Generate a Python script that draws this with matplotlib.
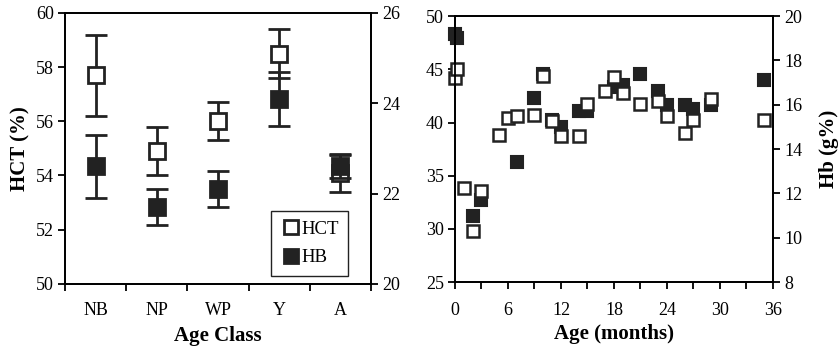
import numpy as np
import matplotlib.pyplot as plt
from matplotlib.ticker import MultipleLocator

plt.rcParams["font.family"] = ["Liberation Serif", "DejaVu Serif"]
plt.rcParams["font.size"] = 13

# Left panel: age classes
classes = ["NB", "NP", "WP", "Y", "A"]
hct_mean = [57.7, 54.9, 56.0, 58.5, 54.1]
hct_err = [1.5, 0.9, 0.7, 0.9, 0.7]
hb_mean = [22.6, 21.7, 22.1, 24.1, 22.6]
hb_err = [0.7, 0.4, 0.4, 0.6, 0.25]

# Right panel: age in months
hct_age = [0, 0.2, 1, 2, 3, 5, 6, 7, 9, 10, 11, 12, 14, 15, 17, 18, 19, 21, 23, 24, 26, 27, 29, 35]
hct_val = [44.2, 45.0, 33.8, 29.8, 33.6, 38.8, 40.4, 40.6, 40.7, 44.4, 40.1, 38.7, 38.7, 41.7,
           43.0, 44.3, 42.8, 41.7, 42.0, 40.6, 39.0, 40.2, 42.2, 40.2]
hb_age = [0, 0.2, 2, 3, 7, 9, 10, 11, 12, 14, 15, 18, 19, 21, 23, 24, 26, 27, 29, 35]
hb_val = [19.2, 19.0, 11.0, 11.7, 13.4, 16.3, 17.4, 15.3, 15.0, 15.7, 15.7, 16.8, 16.9, 17.4,
          16.6, 16.0, 16.0, 15.8, 16.0, 17.1]

fig = plt.figure(figsize=(8.39, 3.5), dpi=100)
ax1 = fig.add_axes([0.0775, 0.189, 0.3647, 0.774])
ax3 = fig.add_axes([0.5423, 0.194, 0.379, 0.760])


def style(ax):
    for s in ax.spines.values():
        s.set_linewidth(1.3)
    ax.tick_params(direction="out", length=5, width=1.3, labelsize=13, pad=3)


# ---- left panel
xpos = np.arange(len(classes)) + 0.5
ax2 = ax1.twinx()
ax1.errorbar(xpos, hct_mean, yerr=hct_err, fmt="s", ms=11, mfc="white", mec="#222222",
             mew=2, ecolor="#222222", elinewidth=2, capsize=8, capthick=2, label="HCT")
ax2.errorbar(xpos, hb_mean, yerr=hb_err, fmt="s", ms=11, mfc="#222222", mec="#222222",
             mew=2, ecolor="#222222", elinewidth=2, capsize=8, capthick=2, label="HB")
ax1.set_xlim(0, 5)
ax1.set_ylim(50, 60)
ax2.set_ylim(20, 26)
ax1.yaxis.set_major_locator(MultipleLocator(2))
ax2.yaxis.set_major_locator(MultipleLocator(2))
ax1.set_xticks(np.arange(6))
ax1.set_xticklabels([])
ax1.set_xticks(xpos, minor=True)
ax1.set_xticklabels(classes, minor=True)
style(ax1)
style(ax2)
ax1.tick_params(axis="x", which="minor", length=0, pad=13)
ax1.set_ylabel("HCT (%)", fontweight="bold", fontsize=15, labelpad=4)
ax1.set_xlabel("Age Class", fontweight="bold", fontsize=15, labelpad=5)

h1, l1 = ax1.get_legend_handles_labels()
h2, l2 = ax2.get_legend_handles_labels()
h1 = [h[0] for h in h1]
h2 = [h[0] for h in h2]
leg = ax2.legend(h1 + h2, l1 + l2, loc="lower right", bbox_to_anchor=(0.925, 0.03),
                 borderaxespad=0, fancybox=False, edgecolor="#222222", framealpha=1,
                 fontsize=13.5, handletextpad=0.0, handlelength=1.1, labelspacing=0.6,
                 borderpad=0.5, markerscale=0.9)
leg.get_frame().set_linewidth(1.0)

# ---- right panel
ax4 = ax3.twinx()
ax3.set_zorder(ax4.get_zorder() + 1)
ax3.patch.set_visible(False)
ax4.plot(hb_age, hb_val, "s", ms=8, mfc="#222222", mec="#222222", mew=1.5, clip_on=False)
ax3.plot(hct_age, hct_val, "s", ms=8, mfc="white", mec="#222222", mew=1.8, clip_on=False)
ax3.set_xlim(0, 36)
ax3.set_ylim(25, 50)
ax4.set_ylim(8, 20)
ax3.xaxis.set_major_locator(MultipleLocator(6))
ax3.xaxis.set_minor_locator(MultipleLocator(3))
ax3.yaxis.set_major_locator(MultipleLocator(5))
ax4.yaxis.set_major_locator(MultipleLocator(2))
style(ax3)
style(ax4)
ax3.tick_params(axis="x", which="both", direction="out", length=5, width=1.3, pad=9)
ax3.set_xlabel("Age (months)", fontweight="bold", fontsize=15, labelpad=4)
ax4.set_ylabel("Hb (g%)", fontweight="bold", fontsize=15, labelpad=12)

fig.savefig("out.png", dpi=100)
